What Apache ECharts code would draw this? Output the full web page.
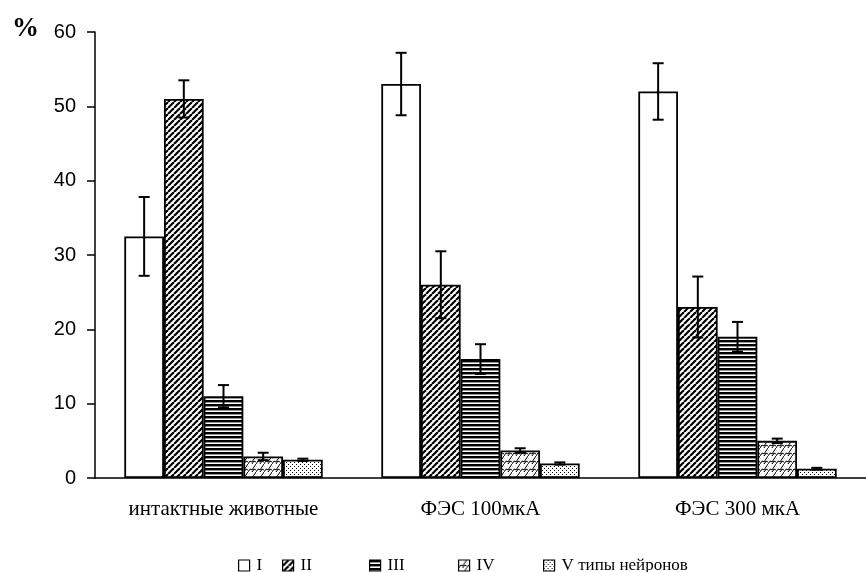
<!DOCTYPE html>
<html>
<head>
<meta charset="utf-8">
<script src="https://cdn.jsdelivr.net/npm/echarts@6/dist/echarts.min.js"></script>
<style>
html,body{margin:0;padding:0;background:#fff;}
#chart{width:866px;height:572px;}
</style>
</head>
<body>
<div id="chart"></div>
<script>
// ---- data ----
const categories = ['интактные животные', 'ФЭС 100мкА', 'ФЭС 300 мкА'];
const seriesNames = ['I', 'II', 'III', 'IV', 'V типы нейронов'];
const typeI   = [32.5, 53, 52];
const typeII  = [51, 26, 23];
const typeIII = [11, 16, 19];
const typeIV  = [2.9, 3.7, 5.0];
const typeV   = [2.45, 1.95, 1.25];
const errI    = [5.3, 4.2, 3.8];
const errII   = [2.5, 4.5, 4.1];
const errIII  = [1.5, 2.0, 2.0];
const errIV   = [0.5, 0.3, 0.3];
const errV    = [0.15, 0.15, 0.12];
const yTicks  = [0, 10, 20, 30, 40, 50, 60];

const values = [typeI, typeII, typeIII, typeIV, typeV];
const errors = [errI, errII, errIII, errIV, errV];

// ---- patterns ----
function makeCanvas(w, h, draw) {
  const c = document.createElement('canvas');
  c.width = w; c.height = h;
  const ctx = c.getContext('2d');
  ctx.fillStyle = '#fff';
  ctx.fillRect(0, 0, w, h);
  draw(ctx);
  return c;
}
const patDiag = makeCanvas(6, 6, ctx => {
  ctx.strokeStyle = '#000'; ctx.lineWidth = 2.2;
  for (let k = -6; k <= 12; k += 6) {
    ctx.beginPath(); ctx.moveTo(k, 6); ctx.lineTo(k + 6, 0); ctx.stroke();
  }
});
const patHoriz = makeCanvas(4, 4, ctx => {
  ctx.fillStyle = '#000'; ctx.fillRect(0, 0, 4, 2.4);
});
const patZig = makeCanvas(8, 8, ctx => {
  ctx.strokeStyle = '#000'; ctx.lineWidth = 1;
  ctx.beginPath();
  ctx.moveTo(0, 8); ctx.lineTo(2, 5); ctx.lineTo(4, 6); ctx.lineTo(8, 0);
  ctx.stroke();
  ctx.beginPath();
  ctx.moveTo(-4, 8); ctx.lineTo(0, 2);
  ctx.moveTo(4, 8); ctx.lineTo(6, 5); ctx.lineTo(8, 6);
  ctx.stroke();
});
const patDots = makeCanvas(4, 4, ctx => {
  ctx.fillStyle = '#000';
  ctx.fillRect(0, 0, 1, 1);
  ctx.fillRect(2, 2, 1, 1);
});
const fills = ['#ffffff',
  {image: patDiag, repeat: 'repeat'},
  {image: patHoriz, repeat: 'repeat'},
  {image: patZig, repeat: 'repeat'},
  {image: patDots, repeat: 'repeat'}];

const CAT_GAP = 0.228;

const barSeries = seriesNames.map((name, i) => ({
  name: name,
  type: 'bar',
  data: values[i],
  barGap: '0%',
  barCategoryGap: (CAT_GAP * 100) + '%',
  itemStyle: {color: fills[i], borderColor: '#000', borderWidth: 1.8},
  emphasis: {disabled: true},
  z: 2
}));

const errSeries = seriesNames.map((name, i) => ({
  name: 'err' + i,
  type: 'custom',
  z: 5,
  data: values[i].map((v, j) => [j, v - errors[i][j], v + errors[i][j]]),
  renderItem: function (params, api) {
    const lo = api.coord([api.value(0), api.value(1)]);
    const hi = api.coord([api.value(0), api.value(2)]);
    const band = api.size([1, 0])[0];
    const bw = band * (1 - CAT_GAP) / 5;
    const x = lo[0] + (i - 2) * bw;
    const cap = 5.5;
    const st = {stroke: '#000', lineWidth: 2};
    return {
      type: 'group',
      children: [
        {type: 'line', shape: {x1: x, y1: lo[1], x2: x, y2: hi[1]}, style: st},
        {type: 'line', shape: {x1: x - cap, y1: lo[1], x2: x + cap, y2: lo[1]}, style: st},
        {type: 'line', shape: {x1: x - cap, y1: hi[1], x2: x + cap, y2: hi[1]}, style: st}
      ]
    };
  }
}));

const legendLefts = [233, 277, 364, 453, 538];
const legends = seriesNames.map((name, i) => ({
  data: [name],
  left: legendLefts[i],
  top: 552,
  itemWidth: 11,
  itemHeight: 11,
  itemGap: 0,
  selectedMode: false,
  icon: 'rect',
  itemStyle: {borderColor: '#000', borderWidth: 1.2},
  textStyle: {fontFamily: 'Liberation Serif', fontSize: 17, color: '#000', padding: [0, 0, 0, 2]}
}));

const chart = echarts.init(document.getElementById('chart'), null, {renderer: 'canvas'});
chart.setOption({
  animation: false,
  backgroundColor: '#fff',
  grid: {left: 95, right: -10, top: 32, bottom: 94, containLabel: false},
  legend: legends,
  graphic: [{
    type: 'text', left: 12, top: 16,
    style: {text: '%', font: 'bold 27px "Liberation Serif"', fill: '#000'}
  }],
  xAxis: {
    type: 'category',
    data: categories,
    axisLine: {lineStyle: {color: '#000', width: 1.5}},
    axisTick: {show: false},
    axisLabel: {interval: 0, hideOverlap: false, fontFamily: 'Liberation Serif', fontSize: 21, color: '#000', margin: 21}
  },
  yAxis: {
    type: 'value',
    min: yTicks[0], max: yTicks[yTicks.length - 1], interval: 10,
    axisLine: {show: true, lineStyle: {color: '#000', width: 1.5}},
    axisTick: {show: true, length: 8, lineStyle: {color: '#000', width: 1.5}},
    splitLine: {show: false},
    axisLabel: {fontFamily: 'Liberation Sans', fontSize: 20, color: '#000', margin: 19}
  },
  series: barSeries.concat(errSeries)
});
</script>
</body>
</html>
